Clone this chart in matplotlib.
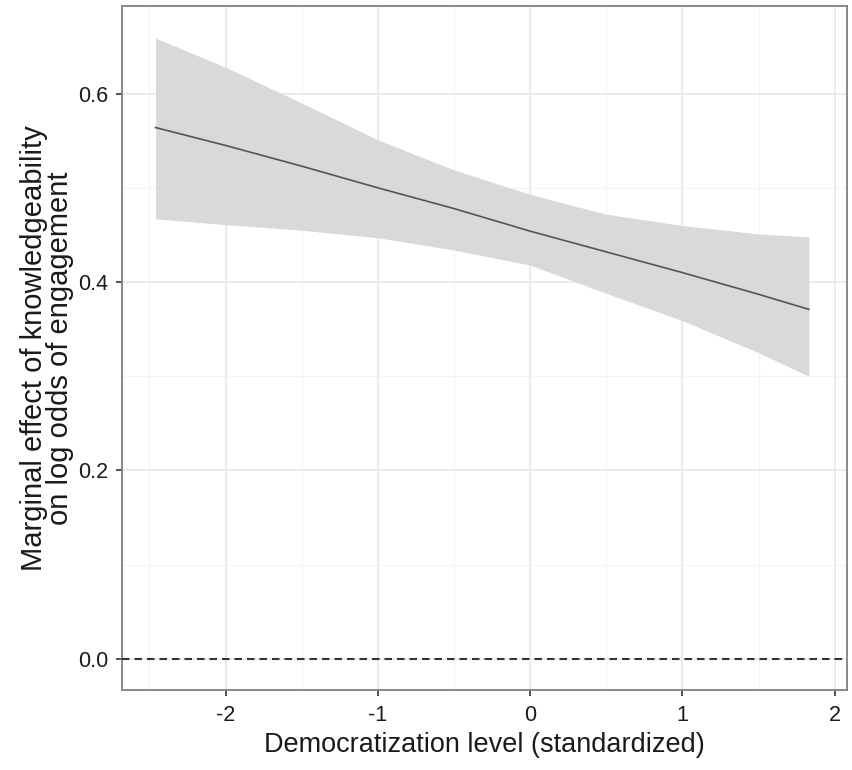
import matplotlib
matplotlib.use("Agg")
import matplotlib.pyplot as plt
from matplotlib.ticker import MultipleLocator

plt.rcParams["font.family"] = ["Liberation Sans", "DejaVu Sans"]
plt.rcParams["axes.unicode_minus"] = False

# democratization level (standardized) and marginal effect with 95% band
demo = [-2.46, -2.0, -1.5, -1.0, -0.5, 0.0, 0.5, 1.0, 1.5, 1.83]
effect = [0.564, 0.545, 0.523, 0.500, 0.478, 0.454, 0.432, 0.410, 0.387, 0.371]
upper = [0.659, 0.628, 0.590, 0.551, 0.519, 0.493, 0.472, 0.460, 0.451, 0.448]
lower = [0.467, 0.461, 0.455, 0.447, 0.434, 0.418, 0.388, 0.359, 0.325, 0.300]

xticks = [-2, -1, 0, 1, 2]
yticks = [0.0, 0.2, 0.4, 0.6]

fig = plt.figure(figsize=(8.52, 7.7), dpi=100)
ax = fig.add_axes([0.1432, 0.1039, 0.8509, 0.8883])

ax.fill_between(demo, lower, upper, color="#d9d9d9", lw=0, zorder=2)
ax.plot(demo, effect, color="#555555", lw=1.2, zorder=3)
ax.axhline(0, color="#333333", lw=1.5, ls=(0, (3.6, 2.4)), zorder=3)

ax.set_xlim(-2.68, 2.08)
ax.set_ylim(-0.033, 0.693)
ax.set_xticks(xticks)
ax.set_yticks(yticks)
ax.set_yticklabels([f"{v:.1f}" for v in yticks])
ax.xaxis.set_minor_locator(MultipleLocator(0.5))
ax.yaxis.set_minor_locator(MultipleLocator(0.1))

ax.grid(which="major", color="#e6e6e6", lw=1.1, zorder=0)
ax.grid(which="minor", color="#f3f3f3", lw=0.8, zorder=0)
ax.set_axisbelow(True)

for s in ax.spines.values():
    s.set_color("#7f7f7f")
    s.set_linewidth(1.3)

ax.tick_params(which="major", length=4.3, width=1.2, color="#333333",
               labelsize=15.5, labelcolor="#1a1a1a")
ax.tick_params(axis="x", pad=6.5)
ax.tick_params(axis="y", pad=5.5)
ax.tick_params(which="minor", length=0)

ax.set_xlabel("Democratization level (standardized)", fontsize=19.5,
              color="#1a1a1a", labelpad=4.3)
ax.set_ylabel("Marginal effect of knowledgeability\non log odds of engagement",
              fontsize=21, color="#1a1a1a", labelpad=3, linespacing=0.9)

fig.savefig("out.png", dpi=100)
